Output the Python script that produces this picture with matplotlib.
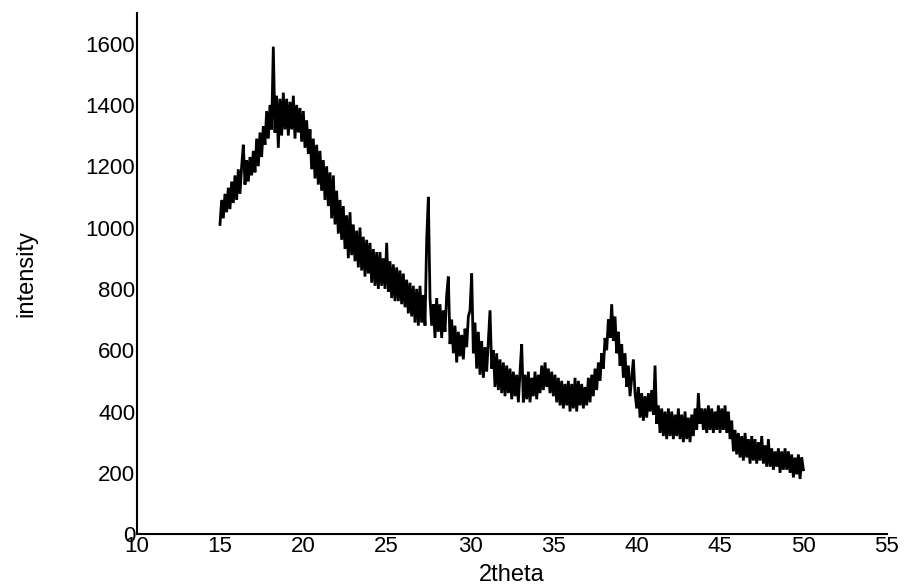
import numpy as np
import matplotlib
matplotlib.use("Agg")
import matplotlib.pyplot as plt

# XRD scan, 0.1 degree step from 15 to 50
two_theta = np.round(np.arange(15.0, 50.01, 0.1), 1)
intensity = [
    1010, 1090, 1030, 1110, 1050, 1130, 1060, 1150, 1080, 1170,   # 15
    1090, 1190, 1110, 1200, 1270, 1140, 1220, 1150, 1230, 1170,   # 16
    1250, 1180, 1290, 1200, 1310, 1230, 1330, 1270, 1380, 1290,   # 17
    1400, 1320, 1590, 1310, 1430, 1260, 1420, 1300, 1440, 1320,   # 18
    1420, 1300, 1410, 1320, 1430, 1290, 1400, 1310, 1390, 1280,   # 19
    1380, 1260, 1350, 1240, 1320, 1190, 1290, 1160, 1270, 1140,   # 20
    1250, 1120, 1220, 1090, 1200, 1070, 1180, 1030, 1170, 1010,   # 21
    1120, 980, 1090, 960, 1070, 930, 1040, 900, 1050, 910,        # 22
    1010, 890, 990, 870, 1000, 860, 970, 840, 960, 850,           # 23
    950, 820, 930, 810, 920, 800, 920, 810, 900, 800,             # 24
    950, 790, 890, 770, 880, 760, 870, 760, 860, 750,             # 25
    850, 740, 830, 720, 820, 710, 810, 690, 800, 680,             # 26
    810, 690, 780, 680, 960, 1100, 770, 680, 750, 640,            # 27
    770, 660, 750, 640, 730, 660, 780, 840, 620, 700,             # 28
    590, 680, 560, 660, 580, 650, 570, 670, 610, 710,             # 29
    730, 850, 590, 690, 540, 660, 520, 630, 510, 610,             # 30
    530, 630, 730, 540, 600, 480, 590, 470, 570, 460,             # 31
    560, 450, 550, 460, 540, 440, 530, 450, 520, 430,             # 32
    530, 620, 430, 520, 440, 530, 430, 510, 450, 530,             # 33
    440, 520, 460, 550, 470, 560, 480, 540, 460, 530,             # 34
    450, 520, 430, 510, 420, 500, 410, 490, 420, 500,             # 35
    400, 490, 410, 510, 400, 500, 420, 490, 410, 480,             # 36
    420, 510, 430, 520, 450, 540, 470, 560, 500, 590,             # 37
    540, 640, 600, 700, 640, 750, 630, 710, 590, 660,             # 38
    550, 620, 510, 590, 480, 550, 450, 510, 570, 460,             # 39
    410, 480, 380, 460, 370, 450, 380, 460, 400, 470,             # 40
    390, 550, 360, 420, 330, 410, 320, 400, 310, 410,             # 41
    320, 400, 310, 390, 320, 410, 310, 390, 300, 400,             # 42
    310, 380, 300, 390, 320, 410, 340, 460, 360, 410,             # 43
    340, 410, 330, 420, 340, 410, 330, 400, 340, 420,             # 44
    330, 410, 340, 420, 330, 400, 310, 370, 270, 340,             # 45
    260, 330, 250, 320, 240, 330, 250, 310, 230, 320,             # 46
    240, 310, 230, 300, 240, 320, 230, 290, 220, 310,             # 47
    220, 280, 210, 270, 220, 280, 200, 270, 210, 280,             # 48
    210, 270, 200, 260, 185, 250, 195, 260, 180, 250,             # 49
    210,                                                          # 50
]

x_ticks = [10, 15, 20, 25, 30, 35, 40, 45, 50, 55]
y_ticks = [0, 200, 400, 600, 800, 1000, 1200, 1400, 1600]

plt.rcParams['font.family'] = ['Liberation Sans', 'DejaVu Sans']

fig = plt.figure(figsize=(9.17, 5.87), dpi=100)
ax = fig.add_axes([0.149, 0.090, 0.818, 0.888])

ax.plot(two_theta, intensity, color='black', lw=2.0, solid_joinstyle='miter')

ax.set_xlim(10, 55)
ax.set_ylim(0, 1700)
ax.set_xticks(x_ticks)
ax.set_yticks(y_ticks)
ax.tick_params(length=0, labelsize=16, pad=1)

for s in ['top', 'right']:
    ax.spines[s].set_visible(False)
for s in ['left', 'bottom']:
    ax.spines[s].set_linewidth(1.5)

ax.set_xlabel('2theta', fontsize=17, labelpad=5)
ax.set_ylabel('intensity', fontsize=17)
ax.yaxis.set_label_coords(-0.132, 0.5)

fig.savefig('out.png', dpi=100)
